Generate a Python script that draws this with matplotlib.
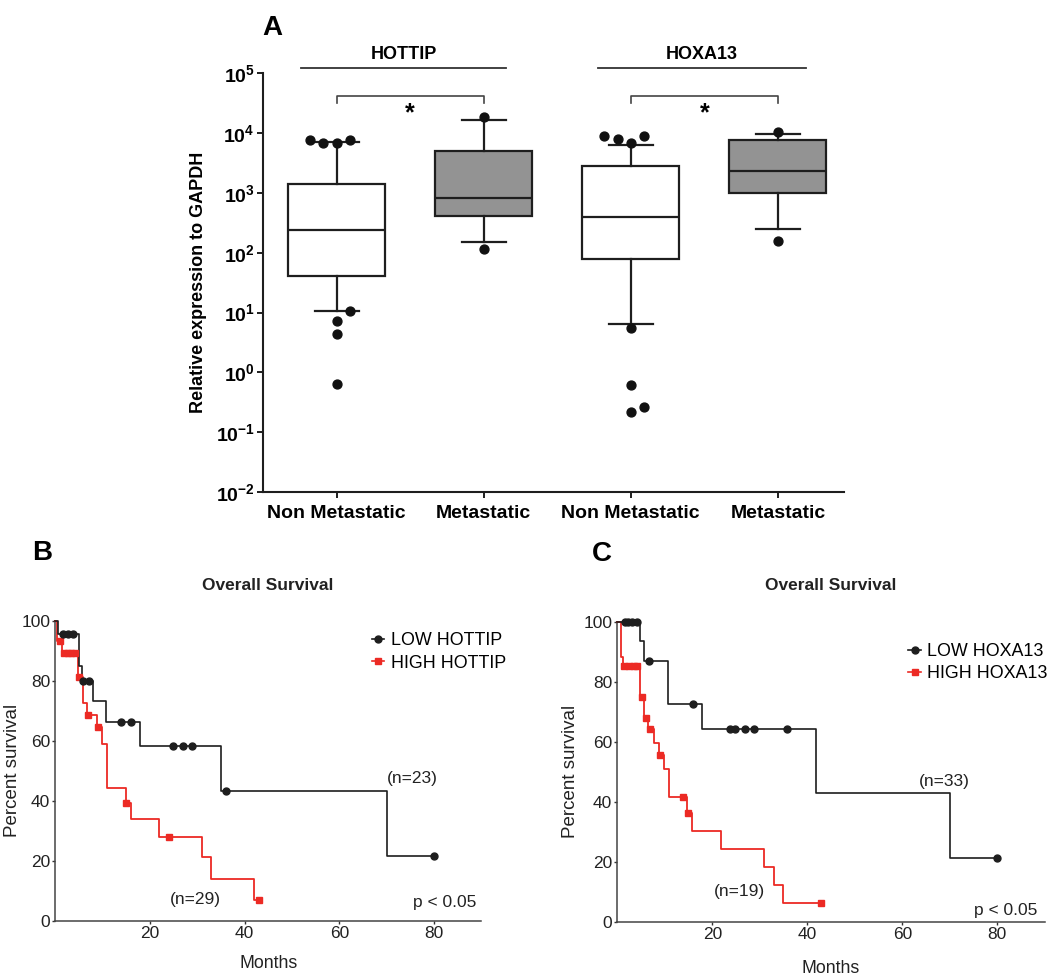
import numpy as np
import matplotlib
matplotlib.use("Agg")
import matplotlib.pyplot as plt
from matplotlib.lines import Line2D
from matplotlib.ticker import NullLocator

plt.rcParams['font.family'] = ['Liberation Sans', 'DejaVu Sans']
plt.rcParams['mathtext.fontset'] = 'custom'
plt.rcParams['mathtext.rm'] = 'Liberation Sans'
plt.rcParams['mathtext.bf'] = 'Liberation Sans:bold'

# ---- panel A data (relative expression, log scale) ----
groups = ['HOTTIP', 'HOXA13']
cats = ['Non Metastatic', 'Metastatic', 'Non Metastatic', 'Metastatic']
q1 = [41, 419, 79, 1005]
med = [240, 834, 402, 2340]
q3 = [1400, 5000, 2860, 7530]
whislo = [10.6, 150, 6.4, 246]
whishi = [7060, 16260, 6410, 9820]
fliers = [[7740, 6950, 6950, 7540, 10.6, 7.3, 4.4, 0.63],
          [18300, 115],
          [8970, 8050, 6800, 8970, 5.6, 0.61, 0.22, 0.26],
          [10500, 155]]
flier_jit = [[-0.18, -0.09, 0, 0.09, 0.09, 0, 0, 0],
             [0, 0],
             [-0.18, -0.09, 0, 0.09, 0, 0, 0, 0.09],
             [0, 0]]
box_fc = ['white', '#939393', 'white', '#939393']

# ---- panel B data (HOTTIP survival) ----
b_low_t = [0, 0.5, 5.0, 5.7, 8.0, 10.8, 17.9, 34.9, 70.0, 80]
b_low_s = [100, 95.6, 85.0, 79.9, 73.2, 66.3, 58.2, 43.3, 21.7, 21.7]
b_low_c = [1.7, 2.7, 3.8, 5.9, 7.1, 13.9, 15.9, 24.9, 26.9, 28.9, 36.0, 80]
b_high_t = [0, 0.4, 1.5, 4.7, 5.9, 6.7, 8.7, 9.9, 11.0, 14.9, 16.0, 22.0, 30.9, 32.9, 42.0, 43]
b_high_s = [100, 93.1, 89.3, 81.3, 72.7, 68.6, 64.5, 59.0, 44.2, 39.3, 33.9, 28.0, 21.1, 14.0, 6.9, 6.9]
b_high_c = [1.0, 1.8, 2.6, 3.4, 4.2, 5.0, 7.0, 9.0, 15.0, 24.0, 43.0]

# ---- panel C data (HOXA13 survival) ----
c_low_t = [0, 4.8, 5.7, 10.7, 17.8, 41.9, 70.0, 80]
c_low_s = [100, 93.5, 86.9, 72.4, 64.1, 42.8, 21.3, 21.3]
c_low_c = [1.6, 2.3, 3.2, 4.1, 6.7, 15.9, 23.7, 24.8, 26.9, 28.8, 35.8, 80]
c_high_t = [0, 0.7, 1.3, 4.8, 5.6, 6.5, 7.8, 8.8, 9.8, 10.9, 14.7, 15.7, 21.8, 30.9, 33.0, 34.9, 43]
c_high_s = [100, 88.3, 85.2, 74.7, 67.7, 64.2, 59.4, 55.5, 50.7, 41.4, 36.3, 30.3, 24.2, 18.3, 12.2, 6.1, 6.1]
c_high_c = [1.5, 2.5, 3.6, 4.2, 5.1, 6.0, 6.8, 8.9, 13.8, 14.9, 42.9]

DARK = '#1e1e1e'
RED = '#ec2a24'

fig = plt.figure(figsize=(10.5, 9.76), dpi=100)

# ================= panel A =================
axA = fig.add_axes([0.2505, 0.4959, 0.5534, 0.429])
pos = np.arange(1, len(cats) + 1)
stats = []
for i in range(len(cats)):
    stats.append(dict(q1=q1[i], med=med[i], q3=q3[i], whislo=whislo[i], whishi=whishi[i], fliers=[]))
bp = axA.bxp(stats, positions=pos, widths=0.66, patch_artist=True, showfliers=False,
             boxprops=dict(linewidth=1.6, edgecolor=DARK),
             medianprops=dict(linewidth=1.6, color=DARK),
             whiskerprops=dict(linewidth=1.6, color=DARK),
             capprops=dict(linewidth=1.6, color=DARK), capwidths=0.3)
for patch, fc in zip(bp['boxes'], box_fc):
    patch.set_facecolor(fc)
for i in range(len(cats)):
    xs = pos[i] + np.array(flier_jit[i])
    axA.plot(xs, fliers[i], 'o', color='#111111', markersize=6.4, zorder=5, clip_on=False)

axA.set_yscale('log')
axA.set_ylim(1e-2, 1e5)
axA.set_xlim(0.5, 4.45)
ticks = list(range(-2, 6))
axA.set_yticks([10.0 ** k for k in ticks])
axA.set_yticklabels([r'$\mathbf{10^{%d}}$' % k for k in ticks], fontsize=14)
axA.yaxis.set_minor_locator(NullLocator())
axA.set_xticks(pos)
axA.set_xticklabels(cats, fontsize=14, fontweight='bold')
axA.tick_params(axis='both', direction='out', length=4, width=1.4, color=DARK)
axA.tick_params(axis='x', pad=5)
axA.tick_params(axis='y', pad=2)
for s in ['top', 'right']:
    axA.spines[s].set_visible(False)
for s in ['left', 'bottom']:
    axA.spines[s].set_linewidth(1.5)
    axA.spines[s].set_color(DARK)
axA.set_ylabel('Relative expression to GAPDH', fontsize=13, fontweight='bold', labelpad=6)

# group headers and significance brackets
grp_span = [(0.76, 2.154), (2.777, 4.19)]
for g, (x0, x1) in zip(groups, grp_span):
    axA.plot([x0, x1], [10 ** 5.086] * 2, color='#333333', lw=1.3, clip_on=False)
    axA.text((x0 + x1) / 2, 10 ** 5.31, g, ha='center', va='center', fontsize=13, fontweight='bold')
for a, b in [(1, 2), (3, 4)]:
    axA.plot([a, a, b, b], [10 ** 4.51, 10 ** 4.626, 10 ** 4.626, 10 ** 4.51],
             color='#444444', lw=1.2, clip_on=False)
    axA.text((a + b) / 2, 10 ** 4.33, '*', ha='center', va='center', fontsize=18, fontweight='bold')

fig.text(272.6 / 1050, 1 - 28.3 / 976, 'A', fontsize=20, fontweight='bold', ha='center', va='center')


# ================= panels B and C =================
def surv_at(t, s, x):
    idx = np.searchsorted(t, x, side='right') - 1
    return np.array(s)[idx]


def km_panel(rect, low, high, labels, nlab, letter, letter_xy, title_xy, xpad, ypad):
    ax = fig.add_axes(rect)
    lt, ls, lc = low
    ht, hs, hc = high
    ax.step(ht, hs, where='post', color=RED, lw=1.3, clip_on=False, zorder=3)
    ax.plot(hc, surv_at(ht, hs, hc), 's', color=RED, markersize=5, clip_on=False, zorder=4)
    ax.step(lt, ls, where='post', color=DARK, lw=1.2, clip_on=False, zorder=3)
    ax.plot(lc, surv_at(lt, ls, lc), 'o', color=DARK, markersize=5, clip_on=False, zorder=4)
    ax.set_xlim(0, 90)
    ax.set_ylim(0, 100)
    ax.set_xticks([20, 40, 60, 80])
    ax.set_yticks([0, 20, 40, 60, 80, 100])
    ax.tick_params(axis='both', direction='out', length=2.5, width=1.0, labelsize=12.5,
                   color='#333333', labelcolor='#222222', pad=1.2)
    for s in ['top', 'right']:
        ax.spines[s].set_visible(False)
    for s in ['left', 'bottom']:
        ax.spines[s].set_linewidth(1.1)
        ax.spines[s].set_color('#444444')
    ax.set_xlabel('Months', fontsize=12.8, color='#222222', labelpad=xpad)
    ax.set_ylabel('Percent survival', fontsize=13.5, color='#222222', labelpad=ypad)
    handles = [Line2D([], [], color=DARK, marker='o', markersize=5, lw=1.2),
               Line2D([], [], color=RED, marker='s', markersize=5, lw=1.2)]
    ax.legend(handles, labels, loc='upper left', bbox_to_anchor=nlab[0], frameon=False,
              fontsize=12.9, handlelength=0.7, handletextpad=0.35, labelspacing=0.3,
              borderpad=0, borderaxespad=0)
    for txt, x, y in nlab[1]:
        ax.text(x, y, txt, ha='center', va='center', fontsize=12.5, color='#222222')
    fig.text(letter_xy[0] / 1050, 1 - letter_xy[1] / 976, letter, fontsize=20,
             fontweight='bold', ha='center', va='center')
    fig.text(title_xy[0] / 1050, 1 - title_xy[1] / 976, 'Overall Survival', fontsize=12.5,
             fontweight='bold', ha='center', va='center', color='#222222')
    return ax


km_panel([0.0527, 0.0567, 0.4058, 0.3074],
         (b_low_t, b_low_s, b_low_c), (b_high_t, b_high_s, b_high_c),
         ['LOW HOTTIP', 'HIGH HOTTIP'],
         ((0.743, 0.961), [('(n=23)', 75.4, 47.5), ('(n=29)', 29.6, 7.1), ('p < 0.05', 82.2, 6.1)]),
         'B', (41.7, 553), (267.7, 586), 10, 0.5)

km_panel([0.5879, 0.0558, 0.4071, 0.3074],
         (c_low_t, c_low_s, c_low_c), (c_high_t, c_high_s, c_high_c),
         ['LOW HOXA13', 'HIGH HOXA13'],
         ((0.681, 0.929), [('(n=33)', 68.9, 46.6), ('(n=19)', 25.8, 9.9), ('p < 0.05', 81.8, 3.8)]),
         'C', (602, 554), (830.8, 585.7), 13, 3)

fig.savefig('out.png', dpi=100, facecolor='white')
